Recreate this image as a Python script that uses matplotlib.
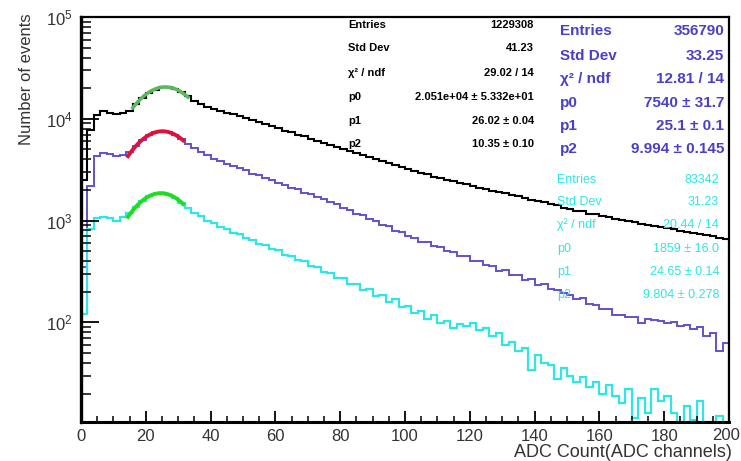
import numpy as np
import matplotlib
matplotlib.use('Agg')
import matplotlib.pyplot as plt
from matplotlib.ticker import MultipleLocator, LogLocator, NullFormatter, FuncFormatter

plt.rcParams['font.family'] = ['Liberation Sans', 'DejaVu Sans']

# histogram bins (ADC channels), 2 channels per bin
edges = np.arange(0, 202, 2)

black = [2500, 7800, 11000, 11800, 11400, 11100, 11300, 12000, 13900, 15900,
         17900, 19300, 20300, 20400, 19700, 18300, 16600, 15100, 13900, 13100,
         12500, 12000, 11500, 11050, 10650, 10100, 9700, 9200, 8850, 8400,
         8050, 7600, 7350, 6950, 6700, 6300, 6080, 5800, 5520, 5330,
         5050, 4880, 4600, 4420, 4180, 4020, 3830, 3670, 3480, 3360,
         3190, 3060, 2920, 2840, 2700, 2630, 2510, 2440, 2330, 2270,
         2170, 2110, 2020, 1970, 1890, 1850, 1770, 1730, 1650, 1610,
         1540, 1510, 1440, 1410, 1340, 1310, 1250, 1230, 1170, 1150,
         1100, 1090, 1040, 1020, 985, 970, 930, 915, 880, 870,
         840, 825, 790, 780, 750, 740, 715, 705, 680, 665]

blue = [350, 2200, 4300, 4650, 4500, 4350, 4420, 4700, 5400, 6250,
        6900, 7350, 7550, 7400, 7000, 6350, 5650, 5150, 4720, 4380,
        4060, 3820, 3560, 3430, 3250, 3120, 2900, 2800, 2600, 2510,
        2340, 2250, 2090, 2020, 1880, 1820, 1690, 1630, 1510, 1450,
        1330, 1280, 1170, 1130, 1030, 990, 905, 875, 795, 770,
        700, 680, 620, 610, 560, 550, 500, 495, 450, 445,
        400, 398, 362, 356, 322, 325, 290, 292, 262, 265,
        232, 238, 212, 206, 195, 185, 168, 172, 150, 148,
        136, 134, 118, 117, 112, 113, 98, 108, 106, 102,
        98, 100, 92, 95, 86, 90, 73, 78, 52, 62]

cyan = [120, 820, 1050, 1080, 1060, 1000, 1080, 1200, 1370, 1570,
        1730, 1830, 1860, 1800, 1680, 1500, 1330, 1200, 1110, 1000,
        950, 870, 830, 760, 730, 670, 650, 590, 575, 520,
        510, 460, 450, 410, 398, 360, 348, 316, 308, 275,
        270, 238, 236, 208, 212, 182, 186, 160, 168, 140,
        144, 123, 130, 108, 118, 98, 104, 88, 96, 92,
        98, 84, 88, 74, 78, 60, 64, 52, 56, 34,
        48, 40, 38, 28, 36, 30, 26, 29, 23, 26,
        20, 24, 19, 16, 22, 11.5, 18, 13, 22, 17,
        19, 13, 10.2, 15, 11, 17, 10.5, 10.3, 12, 10.2]

# gaussian fit parameters (p0, p1, p2) and fit ranges
fit_black = (20510, 26.02, 10.35)
fit_blue = (7540, 25.1, 9.994)
fit_cyan = (1859, 24.65, 9.804)
range_black = (16, 33)
range_blue = (14.5, 31.5)
range_cyan = (14.5, 31.5)

stat_labels = ['Entries', 'Std Dev', 'χ² / ndf', 'p0', 'p1', 'p2']
stat_black = ['1229308', '41.23', '29.02 / 14', '2.051e+04 ± 5.332e+01', '26.02 ± 0.04', '10.35 ± 0.10']
stat_blue = ['356790', '33.25', '12.81 / 14', '7540 ± 31.7', '25.1 ± 0.1', '9.994 ± 0.145']
stat_cyan = ['83342', '31.23', '20.44 / 14', '1859 ± 16.0', '24.65 ± 0.14', '9.804 ± 0.278']

c_black = 'black'
c_blue = '#5f52cf'
c_cyan = '#2ee6e6'

fig = plt.figure(figsize=(7.41, 4.61), dpi=100)
ax = fig.add_axes([81 / 741, 1 - 422 / 461, 648 / 741, 405 / 461])

ax.stairs(black, edges, color=c_black, lw=1.5)
ax.stairs(blue, edges, color=c_blue, lw=1.4)
ax.stairs(cyan, edges, color=c_cyan, lw=1.6)


def gaus(p, lo, hi):
    x = np.linspace(lo, hi, 100)
    return x, p[0] * np.exp(-0.5 * ((x - p[1]) / p[2]) ** 2)


xf, yf = gaus(fit_black, *range_black)
ax.plot(xf, yf, color='#5cb85c', lw=2.6)
xf, yf = gaus(fit_blue, *range_blue)
ax.plot(xf, yf, color='#e0103a', lw=2.8)
xf, yf = gaus(fit_cyan, *range_cyan)
ax.plot(xf, yf, color='#1fdc1f', lw=2.8)

ax.set_yscale('log')
ax.set_xlim(0, 200)
ax.set_ylim(10.5, 1e5)

ax.xaxis.set_major_locator(MultipleLocator(20))
ax.xaxis.set_minor_locator(MultipleLocator(5))
# the last label (200) is drawn separately so it stays inside the figure
ax.xaxis.set_major_formatter(FuncFormatter(lambda v, p: '' if v >= 199 else '%g' % v))
ax.yaxis.set_minor_locator(LogLocator(base=10, subs=np.arange(2, 10)))
ax.yaxis.set_minor_formatter(NullFormatter())
ax.tick_params(axis='x', which='major', direction='in', length=8, width=1.3,
               labelsize=12, pad=5, labelcolor='#333333')
ax.tick_params(axis='x', which='minor', direction='in', length=4, width=1.1)
ax.tick_params(axis='y', which='major', direction='in', length=13, width=1.3,
               labelsize=12, pad=6, labelcolor='#333333')
ax.tick_params(axis='y', which='minor', direction='in', length=7, width=1.1)
for s in ax.spines.values():
    s.set_linewidth(1.6)
ax.spines['left'].set_linewidth(2.4)
ax.spines['bottom'].set_linewidth(2.2)

ax.annotate('200', xy=(200, 0), xycoords=('data', 'axes fraction'),
            xytext=(8, -4.5), textcoords='offset points', ha='right', va='top',
            fontsize=12, color='#333333')

fig.text(27 / 741, 1 - 79 / 461, 'Number of events', rotation=90, fontsize=12,
         ha='center', va='center', color='#333333')
fig.text(732 / 741, 1 - 452 / 461, 'ADC Count(ADC channels)', fontsize=13,
         ha='right', va='center', color='#333333')

# stats boxes
W, H = 741, 461
rows_black = [25, 48, 73, 97, 121, 144]
rows_blue = [31, 56, 79, 103, 126, 149]
rows_cyan = [180, 202, 225, 249, 272, 295]
for i, lab in enumerate(stat_labels):
    fig.text(348 / W, 1 - rows_black[i] / H, lab, fontsize=8, fontweight='bold',
             ha='left', va='center', color='black')
    fig.text(534 / W, 1 - rows_black[i] / H, stat_black[i], fontsize=8, fontweight='bold',
             ha='right', va='center', color='black')
    fig.text(560 / W, 1 - rows_blue[i] / H, lab, fontsize=11, fontweight='bold',
             ha='left', va='center', color='#4a3fc9')
    fig.text(724 / W, 1 - rows_blue[i] / H, stat_blue[i], fontsize=11, fontweight='bold',
             ha='right', va='center', color='#4a3fc9')
    fig.text(557 / W, 1 - rows_cyan[i] / H, lab, fontsize=9,
             ha='left', va='center', color=c_cyan)
    fig.text(719 / W, 1 - rows_cyan[i] / H, stat_cyan[i], fontsize=9,
             ha='right', va='center', color=c_cyan)

fig.savefig('out.png', dpi=100)
